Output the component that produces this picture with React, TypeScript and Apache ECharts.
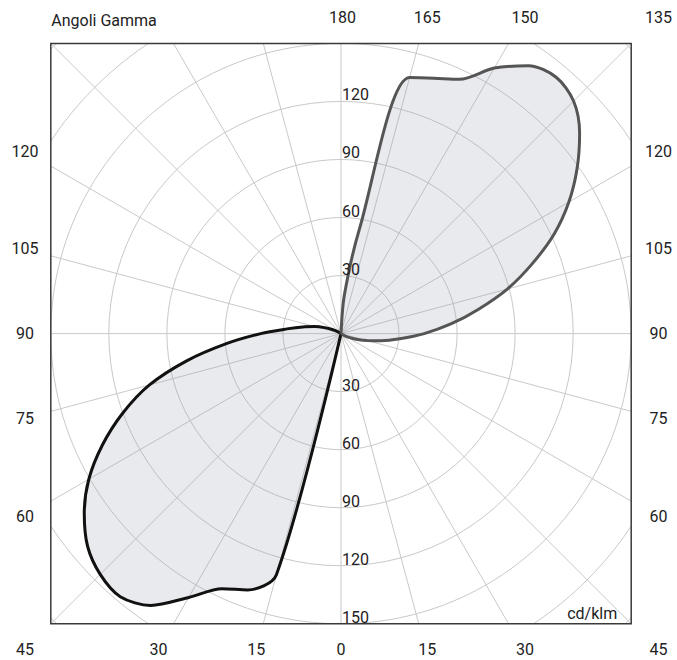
import React, { useEffect, useRef } from "react";
import * as echarts from "echarts";

// Gamma angles (degrees) of the photometric table
const gammaAngles = [
  0, 5, 10, 15, 20, 25, 30, 35, 40, 45, 50, 55, 60, 65, 70, 75, 80, 85, 90,
  95, 100, 105, 110, 115, 120, 125, 130, 135, 140, 145, 150, 155, 160, 165,
  170, 175, 180,
];

// Intensity (cd/klm) in the plane drawn on the left half (black curve)
const planeLeft = [
  0, 0, 0, 129, 141, 145.5, 157.5, 171.5, 177.5, 176, 171, 162, 150.5, 136,
  120, 102.5, 81, 59.5, 41.5, 28, 20, 14, 9, 5, 2, 0, 0, 0, 0, 0, 0, 0, 0, 0,
  0, 0, 0,
];

// Intensity (cd/klm) in the plane drawn on the right half (grey curve)
const planeRight = [
  0, 0, 0, 0, 0, 0, 0, 0, 0, 0, 0, 0, 2, 5, 9, 14, 21, 30.5, 43, 57, 72, 89,
  105, 121.5, 136, 149, 161, 170, 173, 169, 158.5, 145, 140.5, 137, 55, 20, 0,
];

// Tick labels
const gammaTicksLeft = [0, 15, 30, 45, 60, 75, 90, 105, 120];
const gammaTicksRight = [15, 30, 45, 60, 75, 90, 105, 120, 135, 150, 165, 180];
const radialTicksUp = [30, 60, 90, 120];
const radialTicksDown = [30, 60, 90, 120, 150];

const CX = 341;
const CY = 333.6;
const HALF = 290.2; // half side of the square frame (px)
const SCALE_MAX = 150; // cd/klm at the frame edge
const K = HALF / SCALE_MAX;
const RADIUS_MAX = 240;
const LABEL_S = 316;
const FONT = "16px Roboto";
const TEXT_COLOR = "#222222";

function sideLabelPos(g: number, side: number) {
  const rad = (g * Math.PI) / 180;
  const dx = side * Math.sin(rad);
  const dy = Math.cos(rad);
  const t = LABEL_S / Math.max(Math.abs(dx), Math.abs(dy));
  return [CX + dx * t + (side > 0 ? 1.5 : 0), CY + dy * t];
}

function txt(text: string, x: number, y: number, align: string, vAlign = "middle") {
  return {
    type: "text",
    z: 102,
    silent: true,
    style: {
      text,
      x,
      y,
      fill: TEXT_COLOR,
      font: FONT,
      textAlign: align,
      textVerticalAlign: vAlign,
      align,
      verticalAlign: vAlign,
    },
  };
}

export default function App() {
  const ref = useRef<HTMLDivElement>(null);

  useEffect(() => {
    if (!ref.current) return;
    const chart = echarts.init(ref.current, undefined, { renderer: "svg" });

    const leftData = gammaAngles.map((g, i) => [planeLeft[i], g]);
    const rightData = gammaAngles.map((g, i) => [planeRight[i], 360 - g]);

    const graphics: any[] = [];
    const W = 677;
    const H = 660;
    const x0 = CX - HALF;
    const y0 = CY - HALF;
    const side = HALF * 2;
    // mask outside the square frame
    graphics.push({ type: "rect", z: 100, silent: true, shape: { x: 0, y: 0, width: W, height: y0 }, style: { fill: "#fff" } });
    graphics.push({ type: "rect", z: 100, silent: true, shape: { x: 0, y: y0 + side, width: W, height: H - y0 - side }, style: { fill: "#fff" } });
    graphics.push({ type: "rect", z: 100, silent: true, shape: { x: 0, y: 0, width: x0, height: H }, style: { fill: "#fff" } });
    graphics.push({ type: "rect", z: 100, silent: true, shape: { x: x0 + side, y: 0, width: W - x0 - side, height: H }, style: { fill: "#fff" } });
    // frame
    graphics.push({
      type: "rect",
      z: 101,
      silent: true,
      shape: { x: x0, y: y0, width: side, height: side },
      style: { fill: "none", stroke: "#3a3a3a", lineWidth: 1.5 },
    });

    gammaTicksLeft.forEach((g) => {
      const [x, y] = sideLabelPos(g, -1);
      graphics.push(txt(String(g), x, y, "center"));
    });
    gammaTicksRight.forEach((g) => {
      const [x, y] = sideLabelPos(g, 1);
      graphics.push(txt(String(g), x, y, "center"));
    });
    radialTicksUp.forEach((v) => {
      graphics.push(txt(String(v), CX + 1, CY - v * K - 6.5, "left"));
    });
    radialTicksDown.forEach((v) => {
      graphics.push(txt(String(v), CX + 1, CY + v * K - 6.5, "left"));
    });
    graphics.push(txt("Angoli Gamma", x0 + 0.5, CY - 313, "left"));
    graphics.push(txt("cd/klm", x0 + side - 14, CY + HALF - 10, "right"));

    chart.setOption({
      animation: false,
      backgroundColor: "#fff",
      polar: { center: [CX, CY], radius: RADIUS_MAX * K },
      angleAxis: {
        type: "value",
        min: 0,
        max: 360,
        interval: 15,
        startAngle: 270,
        clockwise: true,
        axisLine: { show: false },
        axisTick: { show: false },
        axisLabel: { show: false },
        splitLine: { show: true, lineStyle: { color: "#c9c9c9", width: 1 } },
      },
      radiusAxis: {
        type: "value",
        min: 0,
        max: RADIUS_MAX,
        interval: 30,
        axisLine: { show: false },
        axisTick: { show: false },
        axisLabel: { show: false },
        splitLine: { show: true, lineStyle: { color: "#c9c9c9", width: 1 } },
      },
      series: [
        {
          type: "line",
          coordinateSystem: "polar",
          data: leftData,
          symbol: "none",
          smooth: 0.3,
          lineStyle: { color: "#111111", width: 3 },
          areaStyle: { color: "rgba(150,155,170,0.3)" },
          z: 3,
        },
        {
          type: "line",
          coordinateSystem: "polar",
          data: rightData,
          symbol: "none",
          smooth: 0.3,
          lineStyle: { color: "#555555", width: 3 },
          areaStyle: { color: "rgba(150,155,170,0.3)" },
          z: 3,
        },
      ],
      graphic: graphics,
    });

    return () => {
      chart.dispose();
    };
  }, []);

  return (
    <div
      ref={ref}
      style={{ position: "absolute", left: 0, top: 0, width: 677, height: 660 }}
    />
  );
}
